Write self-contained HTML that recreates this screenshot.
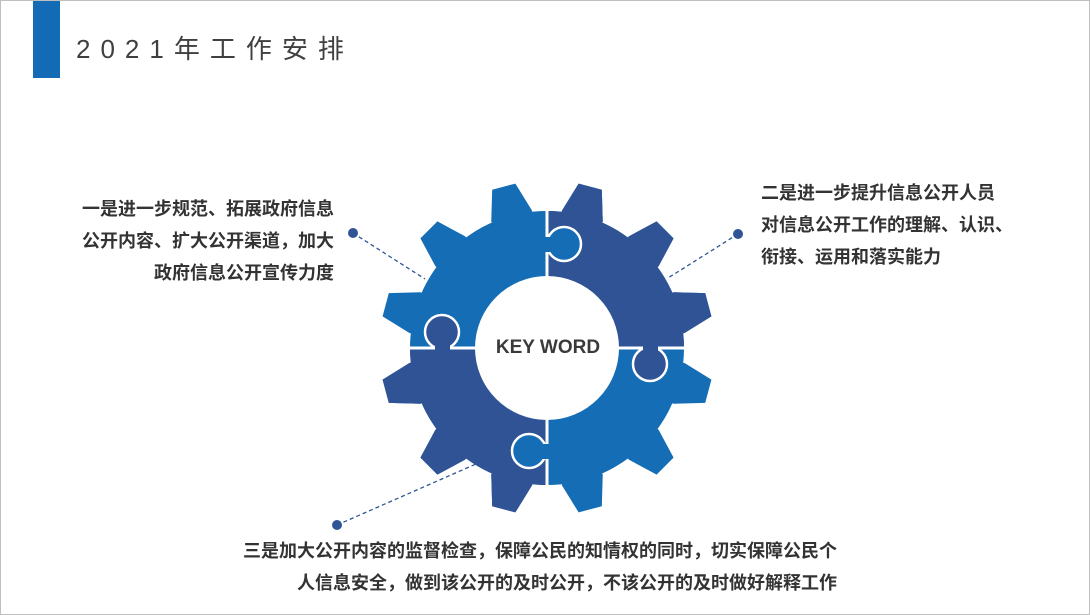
<!DOCTYPE html>
<html><head><meta charset="utf-8"><style>
html,body{margin:0;padding:0;background:#fff;}
#c{position:relative;width:1088px;height:613px;border:1px solid #bfbfbf;overflow:hidden;font-family:"Liberation Sans","Noto Sans CJK SC",sans-serif;}
.t{position:absolute;font-weight:bold;font-size:18px;color:#333;line-height:32px;white-space:nowrap;}
</style></head><body><div id="c">
<div style="position:absolute;left:32px;top:0;width:27px;height:77px;background:#136bb5"></div>
<div style="position:absolute;left:75px;top:28px;font-size:26px;letter-spacing:10px;color:#404040;">2021年工作安排</div>
<svg style="position:absolute;left:0;top:0" width="1088" height="613">
<defs>
<clipPath id="tr"><rect x="546" y="150" width="200" height="197"/></clipPath>
<clipPath id="bl"><rect x="346" y="347" width="200" height="200"/></clipPath>
<polygon id="tooth" points="-21,-132 -21,-137 -12,-167 12,-167 21,-137 21,-132"/>
<g id="g">
<circle cx="0" cy="0" r="137"/>
<use href="#tooth" transform="rotate(15)"/><use href="#tooth" transform="rotate(45)"/><use href="#tooth" transform="rotate(75)"/>
<use href="#tooth" transform="rotate(105)"/><use href="#tooth" transform="rotate(135)"/><use href="#tooth" transform="rotate(165)"/>
<use href="#tooth" transform="rotate(195)"/><use href="#tooth" transform="rotate(225)"/><use href="#tooth" transform="rotate(255)"/>
<use href="#tooth" transform="rotate(285)"/><use href="#tooth" transform="rotate(315)"/><use href="#tooth" transform="rotate(345)"/>
</g>
</defs>
<use href="#g" transform="translate(546,347)" fill="#146db5"/>
<g clip-path="url(#tr)"><use href="#g" transform="translate(546,347)" fill="#2f5394"/></g>
<g clip-path="url(#bl)"><use href="#g" transform="translate(546,347)" fill="#2f5394"/></g>
<line x1="546" y1="170" x2="546" y2="520" stroke="#fff" stroke-width="3"/>
<line x1="370" y1="347" x2="720" y2="347" stroke="#fff" stroke-width="3"/>
<circle cx="563" cy="243" r="17" fill="#146db5" stroke="#fff" stroke-width="2.5"/>
<rect x="543" y="236" width="9" height="15" fill="#146db5"/>
<circle cx="441" cy="331" r="17" fill="#2f5394" stroke="#fff" stroke-width="2.5"/>
<rect x="434" y="343" width="15" height="8" fill="#2f5394"/>
<circle cx="649" cy="363" r="17" fill="#2f5394" stroke="#fff" stroke-width="2.5"/>
<rect x="642" y="343" width="15" height="9" fill="#2f5394"/>
<circle cx="528" cy="450" r="17" fill="#146db5" stroke="#fff" stroke-width="2.5"/>
<rect x="540" y="443" width="9" height="15" fill="#146db5"/>
<circle cx="546" cy="347" r="72" fill="#fff"/>
<text x="547" y="352" text-anchor="middle" font-family="Liberation Sans,sans-serif" font-weight="bold" font-size="19" fill="#3a3a3a">KEY WORD</text>
<g stroke="#2f5597" stroke-width="1.3" stroke-dasharray="4,3">
<line x1="352" y1="232" x2="424" y2="278"/>
<line x1="737" y1="233" x2="667" y2="277"/>
<line x1="336" y1="524" x2="475" y2="463"/>
</g>
<g fill="#2f5597"><circle cx="352" cy="232" r="5"/><circle cx="737" cy="233" r="5"/><circle cx="336" cy="524" r="5"/></g>
</svg>
<div class="t" style="right:755px;top:192px;text-align:right">一是进一步规范、拓展政府信息<br>公开内容、扩大公开渠道，加大<br>政府信息公开宣传力度</div>
<div class="t" style="left:760px;top:176px">二是进一步提升信息公开人员<br>对信息公开工作的理解、认识、<br>衔接、运用和落实能力</div>
<div class="t" style="right:252px;top:534px;text-align:right">三是加大公开内容的监督检查，保障公民的知情权的同时，切实保障公民个<br>人信息安全，做到该公开的及时公开，不该公开的及时做好解释工作</div>
</div></body></html>
